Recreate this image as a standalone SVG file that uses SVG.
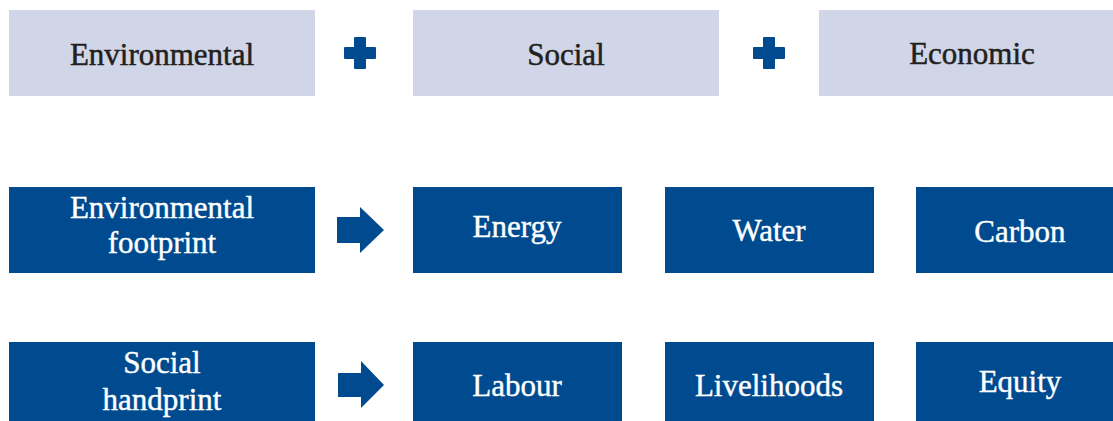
<svg xmlns="http://www.w3.org/2000/svg" width="1113" height="421" viewBox="0 0 1113 421">
<style>
.lb{fill:#d0d5e8}
.db{fill:#004b8f}
.t{font-family:"Times New Roman","Liberation Serif",Tinos,"DejaVu Serif",serif;font-size:31px;text-anchor:middle}
.tk{fill:#231f20;stroke:#231f20;stroke-width:0.5}
.tw{fill:#ffffff;stroke:#ffffff;stroke-width:0.4}
.sym{fill:#004b8f}
</style>
<defs>
<path id="plus" d="M-5,-16 h10 a1,1 0 0 1 1,1 v9 h9 a1,1 0 0 1 1,1 v10 a1,1 0 0 1 -1,1 h-9 v9 a1,1 0 0 1 -1,1 h-10 a1,1 0 0 1 -1,-1 v-9 h-9 a1,1 0 0 1 -1,-1 v-10 a1,1 0 0 1 1,-1 h9 v-9 a1,1 0 0 1 1,-1 z"/>
</defs>
<rect width="1113" height="421" fill="#ffffff"/>
<g id="environmental"><rect class="lb" x="9" y="10" width="306" height="86"/><text class="t tk" x="162" y="65">Environmental</text></g>
<g id="social"><rect class="lb" x="413" y="10" width="306" height="86"/><text class="t tk" x="566" y="65">Social</text></g>
<g id="economic"><rect class="lb" x="819" y="10" width="294" height="86"/><text class="t tk" x="972" y="64">Economic</text></g>
<g id="env-footprint"><rect class="db" x="9" y="187" width="306" height="86"/><text class="t tw" x="162" y="218">Environmental</text><text class="t tw" x="162" y="253">footprint</text></g>
<g id="energy"><rect class="db" x="413" y="187" width="209" height="86"/><text class="t tw" x="517" y="237">Energy</text></g>
<g id="water"><rect class="db" x="665" y="187" width="209" height="86"/><text class="t tw" x="769" y="241">Water</text></g>
<g id="carbon"><rect class="db" x="916" y="187" width="197" height="86"/><text class="t tw" x="1020" y="242">Carbon</text></g>
<g id="social-handprint"><rect class="db" x="9" y="342" width="306" height="79"/><text class="t tw" x="162" y="373">Social</text><text class="t tw" x="162" y="410">handprint</text></g>
<g id="labour"><rect class="db" x="413" y="342" width="209" height="79"/><text class="t tw" x="517" y="396">Labour</text></g>
<g id="livelihoods"><rect class="db" x="665" y="342" width="209" height="79"/><text class="t tw" x="769" y="396">Livelihoods</text></g>
<g id="equity"><rect class="db" x="916" y="342" width="197" height="79"/><text class="t tw" x="1020" y="392">Equity</text></g>
<g id="connectors">
<use href="#plus" class="sym" x="360" y="53"/>
<use href="#plus" class="sym" x="769" y="53"/>
<polygon class="sym" points="337,217 360,217 360,207 384,230 360,253 360,243 337,243"/>
<polygon class="sym" points="338,373 361,373 361,361 384,385 361,408 361,397 338,397"/>
</g>
</svg>
